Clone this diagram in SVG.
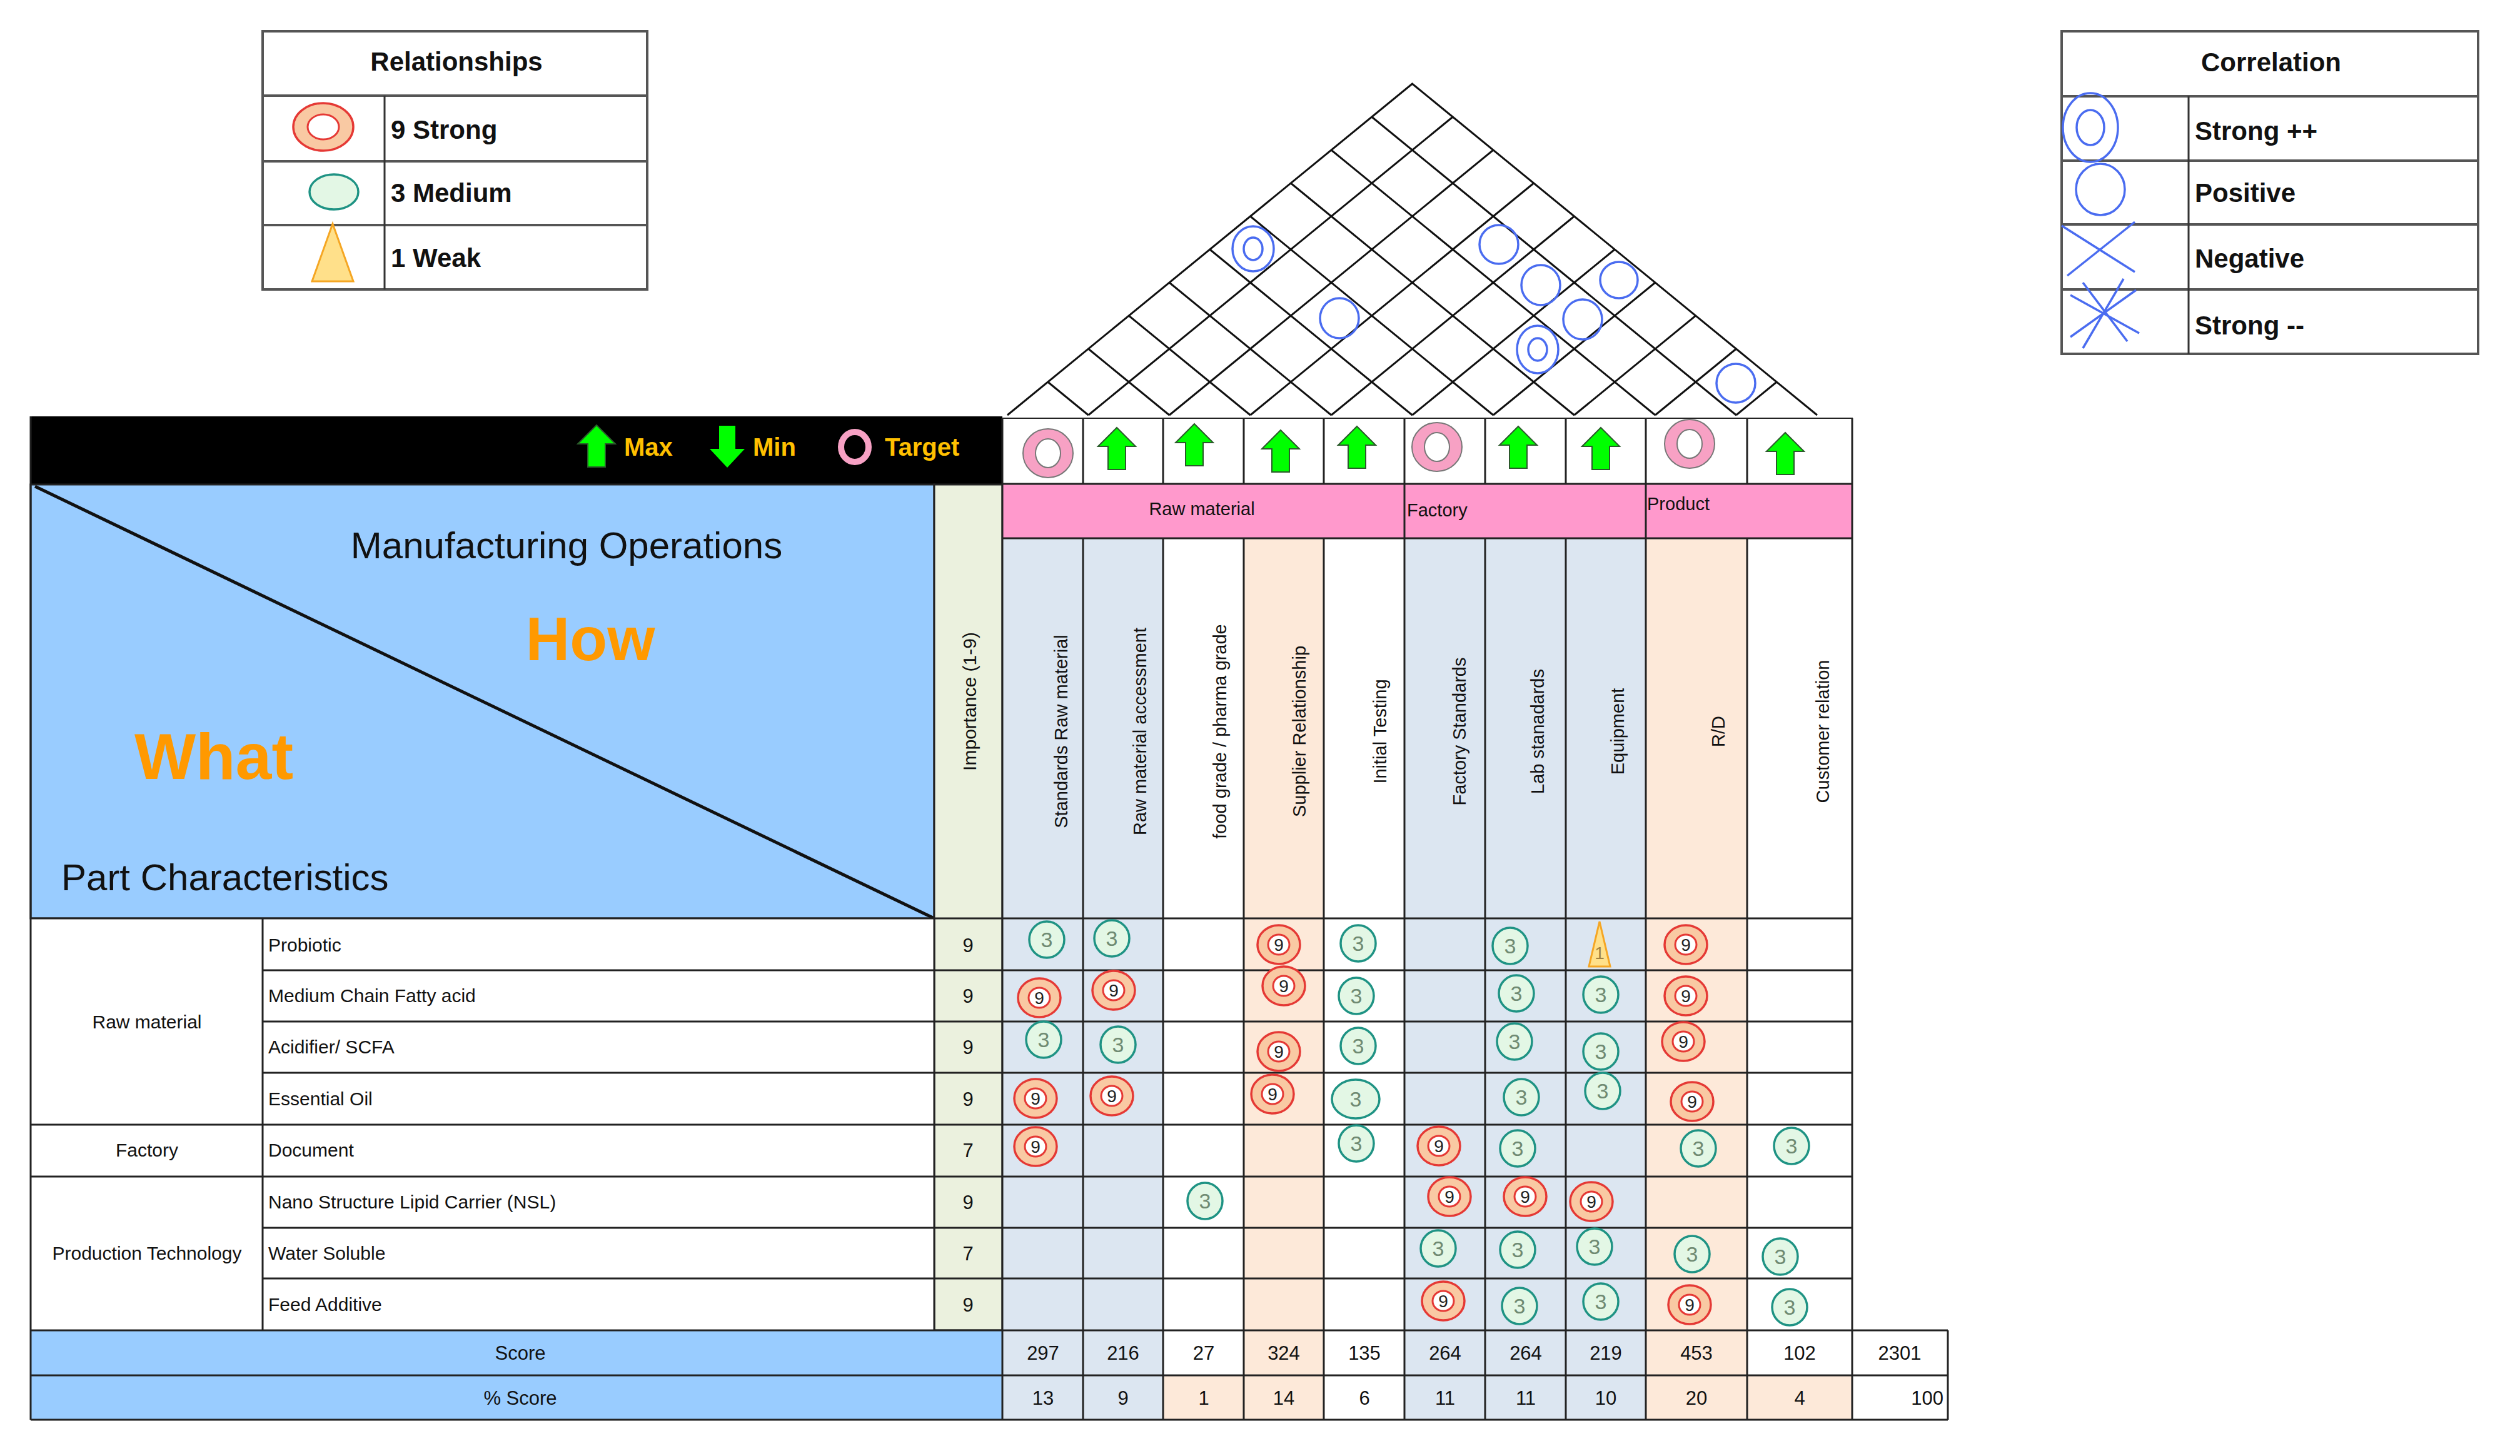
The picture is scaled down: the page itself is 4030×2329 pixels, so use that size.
<svg xmlns="http://www.w3.org/2000/svg" width="4030" height="2329" viewBox="0 0 4030 2329">
<style>
text{font-family:"Liberation Sans",Arial,sans-serif;fill:#111}
.b{font-weight:bold}
.grid{stroke:#222;stroke-width:3;fill:none}
.roof{stroke:#111;stroke-width:3;fill:none}
.corr{stroke:#4a6cf0;stroke-width:3.5;fill:none}
.strongO{fill:#F9C9A3;stroke:#E53935;stroke-width:3.5}
.strongI{fill:#fff;stroke:#E53935;stroke-width:3}
.med{fill:#E3F7E5;stroke:#1F9384;stroke-width:3.5}
.weak{fill:#FFE08A;stroke:#F5A623;stroke-width:3}
.n3{font-size:34px;fill:#6f8a72;text-anchor:middle}
.n9{font-size:28px;fill:#222;text-anchor:middle}
.arr{fill:#00FF00;stroke:#2b5a2b;stroke-width:2}
.tgt{fill:#F7A1C4;stroke:#777;stroke-width:2}
.cl{font-size:29px;text-anchor:middle}
.cell{font-size:31px;text-anchor:middle}
.rn{font-size:30px}
.bluec{fill:#DCE6F1}.peach{fill:#FDE9D9}
.lg{font-size:42px;font-weight:bold}
</style>
<defs>
<path id="up" class="arr" d="M0,-34 L30,-4 L14,-4 L14,33 L-14,33 L-14,-4 L-30,-4 Z"/>
<path id="down" d="M0,34 L28,4 L13,4 L13,-33 L-13,-33 L-13,4 L-28,4 Z" fill="#00FF00"/>
<g id="S"><ellipse class="strongO" rx="34" ry="31"/><ellipse class="strongI" rx="17" ry="16"/><text class="n9" y="10">9</text></g>
<g id="M"><ellipse class="med" rx="28" ry="29"/><text class="n3" y="12">3</text></g>
<g id="T"><ellipse class="tgt" rx="40" ry="39"/><ellipse fill="#fff" stroke="#777" stroke-width="2" rx="20" ry="23"/></g>
</defs>

<g id="legend-relationships">
<rect x="420" y="50" width="615" height="413" fill="#fff" stroke="#555" stroke-width="4"/>
<line x1="420" y1="153" x2="1035" y2="153" stroke="#555" stroke-width="4"/>
<line x1="420" y1="258" x2="1035" y2="258" stroke="#555" stroke-width="4"/>
<line x1="420" y1="360" x2="1035" y2="360" stroke="#555" stroke-width="4"/>
<line x1="615" y1="153" x2="615" y2="463" stroke="#333" stroke-width="3"/>
<text class="lg" x="730" y="113" text-anchor="middle">Relationships</text>
<ellipse class="strongO" cx="517" cy="203" rx="48" ry="38"/><ellipse class="strongI" cx="517" cy="203" rx="25" ry="20"/>
<ellipse class="med" cx="534" cy="307" rx="39" ry="28"/>
<polygon class="weak" points="532,358 565,450 499,450"/>
<text class="lg" x="625" y="222">9  Strong</text>
<text class="lg" x="625" y="323">3  Medium</text>
<text class="lg" x="625" y="427">1  Weak</text>
</g>

<g id="legend-correlation">
<rect x="3297" y="50" width="666" height="516" fill="#fff" stroke="#555" stroke-width="4"/>
<line x1="3297" y1="154" x2="3963" y2="154" stroke="#555" stroke-width="4"/>
<line x1="3297" y1="257" x2="3963" y2="257" stroke="#555" stroke-width="4"/>
<line x1="3297" y1="359" x2="3963" y2="359" stroke="#555" stroke-width="4"/>
<line x1="3297" y1="463" x2="3963" y2="463" stroke="#555" stroke-width="4"/>
<line x1="3500" y1="154" x2="3500" y2="566" stroke="#333" stroke-width="3"/>
<text class="lg" x="3632" y="114" text-anchor="middle">Correlation</text>
<ellipse class="corr" cx="3343" cy="204" rx="44" ry="55"/><ellipse class="corr" cx="3343" cy="204" rx="22" ry="28"/>
<ellipse class="corr" cx="3359" cy="303" rx="39" ry="41"/>
<line class="corr" x1="3297" y1="361" x2="3414" y2="435"/><line class="corr" x1="3306" y1="441" x2="3414" y2="355"/>
<line class="corr" x1="3331" y1="452" x2="3402" y2="546"/><line class="corr" x1="3311" y1="472" x2="3421" y2="533"/>
<line class="corr" x1="3331" y1="557" x2="3396" y2="446"/><line class="corr" x1="3311" y1="539" x2="3416" y2="464"/>
<text class="lg" x="3510" y="224">Strong ++</text>
<text class="lg" x="3510" y="323">Positive</text>
<text class="lg" x="3510" y="428">Negative</text>
<text class="lg" x="3510" y="535">Strong --</text>
</g>

<g id="roof">
<path class="roof" d="M1611,664 L2258.5,134 L2906,664
M1740.5,664 L2323.25,187 M1870,664 L2388,240 M1999.5,664 L2452.75,293 M2129,664 L2517.5,346 M2258.5,664 L2582.25,399 M2388,664 L2647,452 M2517.5,664 L2711.75,505 M2647,664 L2776.5,558 M2776.5,664 L2841.25,611
M1740.5,664 L1675.75,611 M1870,664 L1740.5,558 M1999.5,664 L1805.25,505 M2129,664 L1870,452 M2258.5,664 L1934.75,399 M2388,664 L1999.5,346 M2517.5,664 L2064.25,293 M2647,664 L2129,240 M2776.5,664 L2193.75,187"/>
<ellipse class="corr" cx="2004" cy="398" rx="33" ry="36"/><ellipse class="corr" cx="2004" cy="398" rx="15" ry="18"/>
<ellipse class="corr" cx="2397" cy="391" rx="31" ry="31"/>
<ellipse class="corr" cx="2464" cy="456" rx="31" ry="32"/>
<ellipse class="corr" cx="2589" cy="448" rx="30" ry="29"/>
<ellipse class="corr" cx="2142" cy="509" rx="31" ry="32"/>
<ellipse class="corr" cx="2531" cy="511" rx="31" ry="32"/>
<ellipse class="corr" cx="2459" cy="559" rx="33" ry="38"/><ellipse class="corr" cx="2459" cy="559" rx="15" ry="18"/>
<ellipse class="corr" cx="2776" cy="613" rx="31" ry="31"/>
</g>

<g id="what-how">
<rect x="49" y="666" width="1554" height="109" fill="#000"/>
<use href="#up" x="954" y="714"/>
<text x="998" y="729" class="b" font-size="40" style="fill:#FFC000">Max</text>
<use href="#down" x="1163" y="714"/>
<text x="1204" y="729" class="b" font-size="40" style="fill:#FFC000">Min</text>
<ellipse cx="1367" cy="715" rx="22" ry="24" fill="none" stroke="#F7A1C4" stroke-width="10"/>
<text x="1415" y="729" class="b" font-size="40" style="fill:#FFC000">Target</text>
<rect x="49" y="775" width="1445" height="694" fill="#99CCFF" stroke="#222" stroke-width="3"/>
<line x1="56" y1="778" x2="1494" y2="1469" stroke="#111" stroke-width="5"/>
<text x="906" y="893" font-size="60" text-anchor="middle">Manufacturing Operations</text>
<text x="944" y="1056" font-size="98" class="b" text-anchor="middle" style="fill:#FF9900">How</text>
<text x="342" y="1246" font-size="104" class="b" text-anchor="middle" style="fill:#FF9900">What</text>
<text x="98" y="1424" font-size="60">Part Characteristics</text>
<rect x="1494" y="775" width="109" height="1353" fill="#EBF1DE" stroke="#222" stroke-width="3"/>
<text transform="translate(1561,1122) rotate(-90)" font-size="30" text-anchor="middle">Importance (1-9)</text>
</g>

<g id="columns">
<rect x="1603" y="669" width="1359" height="105" fill="#fff" stroke="#222" stroke-width="2"/>
<rect x="1603" y="774" width="1359" height="87" fill="#FF99CC"/>
<rect class="bluec" x="1603" y="861" width="257" height="1267"/>
<rect class="peach" x="1989" y="861" width="128" height="1267"/>
<rect class="bluec" x="2246" y="861" width="386" height="1267"/>
<rect class="peach" x="2632" y="861" width="162" height="1267"/>
<text x="1922" y="824" font-size="29" text-anchor="middle">Raw material</text>
<text x="2250" y="826" font-size="29">Factory</text>
<text x="2634" y="816" font-size="29">Product</text>
<text class="cl" transform="translate(1707,1170) rotate(-90)">Standards Raw material</text>
<text class="cl" transform="translate(1833,1170) rotate(-90)">Raw material accessment</text>
<text class="cl" transform="translate(1961,1170) rotate(-90)">food grade / pharma grade</text>
<text class="cl" transform="translate(2088,1170) rotate(-90)">Supplier Relationship</text>
<text class="cl" transform="translate(2217,1170) rotate(-90)">Initial Testing</text>
<text class="cl" transform="translate(2344,1170) rotate(-90)">Factory Standards</text>
<text class="cl" transform="translate(2469,1170) rotate(-90)">Lab stanadards</text>
<text class="cl" transform="translate(2597,1170) rotate(-90)">Equipment</text>
<text class="cl" transform="translate(2758,1170) rotate(-90)">R/D</text>
<text class="cl" transform="translate(2925,1170) rotate(-90)">Customer relation</text>
<use href="#T" x="1676" y="725"/>
<use href="#up" x="1786" y="718"/>
<use href="#up" x="1910" y="712"/>
<use href="#up" x="2048" y="722"/>
<use href="#up" x="2170" y="716"/>
<use href="#T" x="2298" y="715"/>
<use href="#up" x="2428" y="716"/>
<use href="#up" x="2560" y="718"/>
<use href="#T" x="2702" y="710"/>
<use href="#up" x="2855" y="726"/>
</g>

<g id="rows">
<rect x="49" y="1469" width="1445" height="659" fill="#fff"/>
<text class="rn" x="235" y="1645" text-anchor="middle">Raw material</text>
<text class="rn" x="235" y="1850" text-anchor="middle">Factory</text>
<text class="rn" x="235" y="2015" text-anchor="middle">Production Technology</text>
<text class="rn" x="429" y="1522">Probiotic</text>
<text class="rn" x="429" y="1603">Medium Chain Fatty acid</text>
<text class="rn" x="429" y="1685">Acidifier/ SCFA</text>
<text class="rn" x="429" y="1768">Essential Oil</text>
<text class="rn" x="429" y="1850">Document</text>
<text class="rn" x="429" y="1933">Nano Structure Lipid Carrier (NSL)</text>
<text class="rn" x="429" y="2015">Water Soluble</text>
<text class="rn" x="429" y="2097">Feed Additive</text>
<g class="cell"><text x="1548" y="1523">9</text><text x="1548" y="1604">9</text><text x="1548" y="1686">9</text><text x="1548" y="1769">9</text><text x="1548" y="1851">7</text><text x="1548" y="1934">9</text><text x="1548" y="2016">7</text><text x="1548" y="2098">9</text></g>
</g>

<g id="scores">
<rect x="49" y="2128" width="1554" height="143" fill="#99CCFF"/>
<rect class="bluec" x="1603" y="2128" width="257" height="143"/>
<rect class="peach" x="1989" y="2128" width="128" height="72"/>
<rect class="peach" x="1860" y="2200" width="257" height="71"/>
<rect class="bluec" x="2246" y="2128" width="386" height="143"/>
<rect class="peach" x="2632" y="2128" width="162" height="72"/>
<rect class="peach" x="2632" y="2200" width="330" height="71"/>
<rect x="2962" y="2128" width="153" height="143" fill="#fff"/>
<text class="cell" x="832" y="2175">Score</text>
<text class="cell" x="832" y="2247">% Score</text>
<g class="cell">
<text x="1668" y="2175">297</text><text x="1796" y="2175">216</text><text x="1925" y="2175">27</text><text x="2053" y="2175">324</text><text x="2182" y="2175">135</text><text x="2311" y="2175">264</text><text x="2440" y="2175">264</text><text x="2568" y="2175">219</text><text x="2713" y="2175">453</text><text x="2878" y="2175">102</text><text x="3038" y="2175">2301</text>
<text x="1668" y="2247">13</text><text x="1796" y="2247">9</text><text x="1925" y="2247">1</text><text x="2053" y="2247">14</text><text x="2182" y="2247">6</text><text x="2311" y="2247">11</text><text x="2440" y="2247">11</text><text x="2568" y="2247">10</text><text x="2713" y="2247">20</text><text x="2878" y="2247">4</text><text x="3108" y="2247" text-anchor="end">100</text>
</g>
</g>

<g id="gridlines" class="grid">
<path d="M1603,669 V2271 M1732,669 V774 M1732,861 V2271 M1860,669 V774 M1860,861 V2271 M1989,669 V774 M1989,861 V2271 M2117,669 V774 M2117,861 V2271 M2246,669 V2271 M2375,669 V774 M2375,861 V2271 M2504,669 V774 M2504,861 V2271 M2632,669 V2271 M2794,669 V774 M2794,861 V2271 M2962,669 V2271 M3115,2128 V2271"/>
<path d="M1603,774 H2962 M1603,861 H2962"/>
<path d="M49,1469 H2962 M420,1552 H2962 M420,1634 H2962 M420,1716 H2962 M49,1799 H2962 M49,1882 H2962 M420,1964 H2962 M420,2045 H2962 M49,2128 H3115 M49,2200 H3115 M49,2271 H3115"/>
<path d="M49,666 V2271 M420,1469 V2128 M1494,1469 V2128"/>
</g>

<g id="matrix">
<use href="#M" x="1674" y="1503"/><use href="#M" x="1778" y="1501"/><use href="#S" x="2045" y="1511"/><use href="#M" x="2172" y="1509"/><use href="#M" x="2415" y="1513"/>
<g><polygon class="weak" points="2558,1474 2575,1546 2541,1546"/><text x="2558" y="1534" font-size="28" text-anchor="middle" style="fill:#a08040">1</text></g>
<use href="#S" x="2696" y="1511"/>
<use href="#S" x="1662" y="1596"/><use href="#S" x="1781" y="1584"/><use href="#S" x="2053" y="1577"/><use href="#M" x="2169" y="1593"/><use href="#M" x="2425" y="1589"/><use href="#M" x="2560" y="1591"/><use href="#S" x="2696" y="1593"/>
<use href="#M" x="1669" y="1663"/><use href="#M" x="1788" y="1671"/><use href="#S" x="2045" y="1682"/><use href="#M" x="2172" y="1673"/><use href="#M" x="2422" y="1666"/><use href="#M" x="2560" y="1682"/><use href="#S" x="2692" y="1666"/>
<use href="#S" x="1656" y="1757"/><use href="#S" x="1778" y="1753"/><use href="#S" x="2035" y="1750"/>
<g><ellipse class="med" cx="2168" cy="1758" rx="38" ry="31"/><text class="n3" x="2168" y="1770">3</text></g>
<use href="#M" x="2433" y="1755"/><use href="#M" x="2563" y="1745"/><use href="#S" x="2706" y="1762"/>
<use href="#S" x="1656" y="1834"/><use href="#M" x="2169" y="1829"/><use href="#S" x="2301" y="1833"/><use href="#M" x="2427" y="1837"/><use href="#M" x="2716" y="1837"/><use href="#M" x="2865" y="1833"/>
<use href="#M" x="1927" y="1921"/><use href="#S" x="2318" y="1914"/><use href="#S" x="2439" y="1914"/><use href="#S" x="2545" y="1922"/>
<use href="#M" x="2300" y="1997"/><use href="#M" x="2427" y="1999"/><use href="#M" x="2550" y="1994"/><use href="#M" x="2706" y="2006"/><use href="#M" x="2847" y="2010"/>
<use href="#S" x="2308" y="2081"/><use href="#M" x="2430" y="2089"/><use href="#M" x="2560" y="2082"/><use href="#S" x="2702" y="2087"/><use href="#M" x="2862" y="2091"/>
</g>
</svg>
